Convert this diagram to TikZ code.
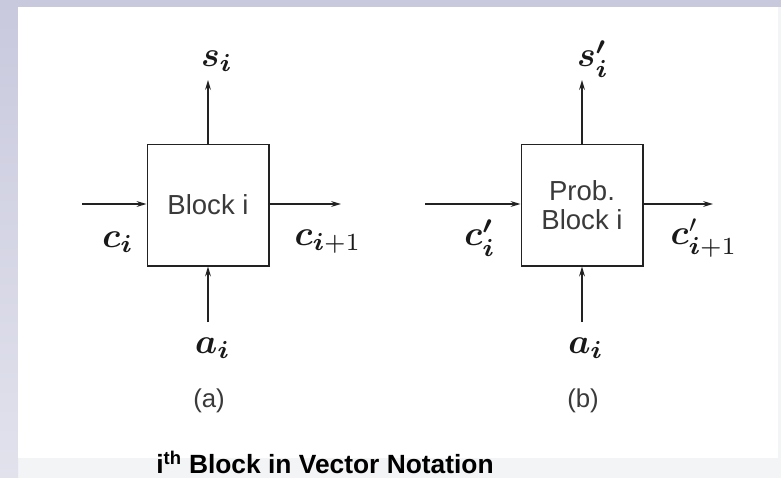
\documentclass[tikz,border=0pt]{standalone}
\usepackage{amsmath,amssymb}
\usepackage{fontspec}
\setsansfont{Liberation Sans}
\usepackage{tikz}
\usetikzlibrary{arrows.meta,positioning,calc}
\definecolor{bgFrame}{RGB}{200,201,221}
\definecolor{bgFrameLow}{RGB}{226,226,237}
\definecolor{bgStrip}{RGB}{243,244,246}
\definecolor{inkLine}{RGB}{34,34,34}
\definecolor{inkText}{RGB}{58,58,58}
\newcommand{\sigmath}[1]{\scalebox{3.0}{$#1$}}

\begin{document}
\begin{tikzpicture}[
			x=0.03cm,y=-0.03cm,
			blockbox/.style={
				draw=inkLine,
				line width=1.7pt,
				minimum width=3.63cm,
				minimum height=3.63cm,
				align=center,
				inner sep=0pt,
				text=inkText,
				font=\sffamily\fontsize{23.5}{25}\selectfont
			},
			flow/.style={
				draw=inkLine,
				line width=1.2pt,
				-{Stealth[length=8.5pt,width=5pt,inset=3pt]}
			},
			sig/.style={
				inner sep=0pt,
				text=black!90
			},
			tag/.style={
				inner sep=0pt,
				text=inkText,
				font=\sffamily\fontsize{22}{26}\selectfont
			},
			caption/.style={
				inner sep=0pt,
				text=black,
				font=\sffamily\bfseries\fontsize{22.5}{26}\selectfont
			}
			]
			\useasboundingbox (0,0) rectangle (781,478);
			\fill[bgStrip] (0,0) rectangle (781,478);
			\shade[top color=bgFrame,bottom color=bgFrameLow] (0,0) rectangle (18,478);
			\fill[bgFrame] (0,0) rectangle (781,7);
			\fill[white] (18,7) rectangle (778,458);

			\node[blockbox] (blockA) at (208,205) {Block i};
			\node[blockbox] (blockB) at (582,205) {Prob.\\Block i};

			\coordinate (sTipA) at (208,80);
			\coordinate (cInA) at (82,204);
			\coordinate (cOutA) at (341,204);
			\coordinate (aInA) at (208,322);
			\coordinate (sTipB) at (582,80);
			\coordinate (cInB) at (425,204);
			\coordinate (cOutB) at (713,204);
			\coordinate (aInB) at (582,322);

			\draw[flow] (blockA.north) -- (sTipA);
			\draw[flow] (cInA) -- (cInA -| blockA.west);
			\draw[flow] (cOutA -| blockA.east) -- (cOutA);
			\draw[flow] (aInA) -- (blockA.south);
			\draw[flow] (blockB.north) -- (sTipB);
			\draw[flow] (cInB) -- (cInB -| blockB.west);
			\draw[flow] (cOutB -| blockB.east) -- (cOutB);
			\draw[flow] (aInB) -- (blockB.south);

			\node[sig] (sA) at (217,61) {\sigmath{\boldsymbol{s_i}}};
			\node[sig] (cA) at (118,242) {\sigmath{\boldsymbol{c_i}}};
			\node[sig] (cNextA) at (328,242) {\sigmath{\boldsymbol{c}_{\boldsymbol{i}+1}}};
			\node[sig] (aA) at (213,348) {\sigmath{\boldsymbol{a_i}}};
			\node[sig] (sB) at (593,59) {\sigmath{\boldsymbol{s'_i}}};
			\node[sig] (cB) at (480,238) {\sigmath{\boldsymbol{c'_i}}};
			\node[sig] (cNextB) at (704,238) {\sigmath{\boldsymbol{c}'_{\boldsymbol{i}+1}}};
			\node[sig] (aB) at (586,348) {\sigmath{\boldsymbol{a_i}}};

			\node[tag] (tagA) at (209,401) {(a)};
			\node[tag] (tagB) at (583,401) {(b)};

			\node[caption,anchor=base] (title) at (325,473) {i\textsuperscript{th} Block in Vector Notation};
		\end{tikzpicture}
\end{document}
